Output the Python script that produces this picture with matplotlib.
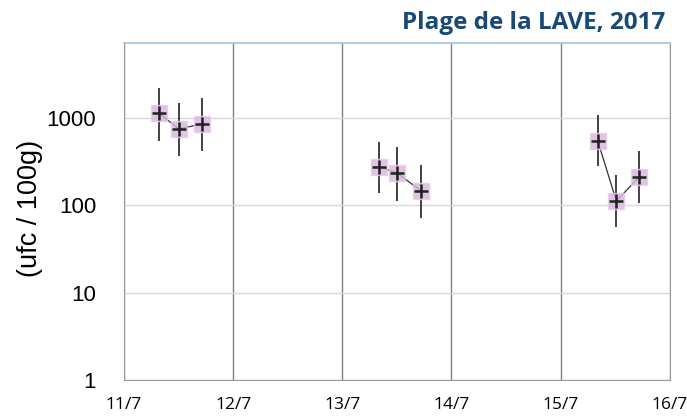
import numpy as np
import matplotlib.pyplot as plt

# sampling days (offset in days from 11/7) and counts per group
day_labels = ["11/7", "12/7", "13/7", "14/7", "15/7", "16/7"]
x_g1 = [0.32, 0.50, 0.71]
y_g1 = [1140, 750, 850]
lo_g1 = [545, 368, 420]
hi_g1 = [2200, 1480, 1690]

x_g2 = [2.34, 2.50, 2.72]
y_g2 = [275, 235, 147]
lo_g2 = [139, 112, 72]
hi_g2 = [532, 466, 290]

x_g3 = [4.34, 4.51, 4.72]
y_g3 = [545, 112, 212]
lo_g3 = [283, 57, 107]
hi_g3 = [1080, 223, 420]

groups = [(x_g1, y_g1, lo_g1, hi_g1), (x_g2, y_g2, lo_g2, hi_g2), (x_g3, y_g3, lo_g3, hi_g3)]

fig = plt.figure(figsize=(6.87, 4.18), dpi=100)
ax = fig.add_axes([0.1805, 0.0909, 0.7945, 0.806])

for xs, ys, lo, hi in groups:
    ys = np.array(ys)
    yerr = [ys - np.array(lo), np.array(hi) - ys]
    ax.errorbar(xs, ys, yerr=yerr, fmt='none', ecolor='#222222', elinewidth=1.2, capsize=0, zorder=3)
    ax.plot(xs, ys, '-', color='#333333', lw=0.9, zorder=4)
    ax.plot(xs, ys, 's', ms=11, mfc='#d9b6dc', mec='#e4cbe6', alpha=0.8, zorder=5)
    ax.plot(xs, ys, '+', ms=10, mew=1.8, color='#222222', zorder=6)

ax.set_yscale('log')
ax.set_ylim(1, 7200)
ax.set_xlim(0, 5)
ax.set_yticks([1, 10, 100, 1000])
ax.set_yticklabels(['1', '10', '100', '1000'])
ax.minorticks_off()
ax.set_xticks(range(6))
ax.set_xticklabels(day_labels, fontsize=12.5, fontfamily='Open Sans')
ax.tick_params(axis='y', labelsize=16, length=0, pad=20)
ax.tick_params(axis='x', length=0, pad=12)
for lab in ax.get_yticklabels():
    lab.set_fontfamily('Liberation Sans')

ax.yaxis.grid(True, color='#d9d9d9', lw=1)
ax.xaxis.grid(True, color='#808080', lw=1)
ax.set_axisbelow(True)
for s in ['left', 'bottom', 'right']:
    ax.spines[s].set_color('#999999')
ax.spines['top'].set_color('#9dc3e6')
ax.spines['top'].set_linewidth(1.2)

ax.set_ylabel('(ufc / 100g)', fontsize=19.5, fontfamily='Liberation Sans')
ax.yaxis.set_label_coords(-0.148, 0.51)
fig.text(0.968, 0.945, 'Plage de la LAVE, 2017', ha='right', va='center',
         fontsize=17.5, fontweight='bold', color='#184a75', fontfamily='Open Sans')

fig.savefig('out.png', dpi=100)
